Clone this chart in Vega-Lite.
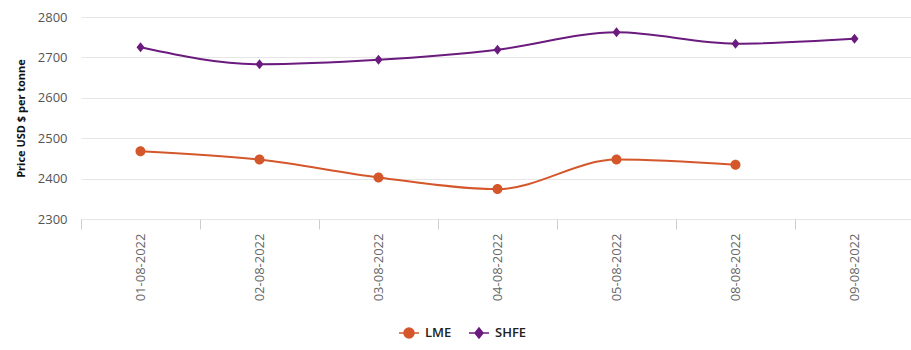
{
  "$schema": "https://vega.github.io/schema/vega-lite/v6.json",
  "width": 822,
  "height": 202,
  "autosize": "none",
  "padding": {"left": 81, "top": 17, "right": 8, "bottom": 131},
  "background": "white",
  "config": {"view": {"stroke": null}, "font": "Open Sans"},
  "data": {
    "values": [
      {"date": "01-08-2022", "series": "LME", "price": 2468},
      {"date": "02-08-2022", "series": "LME", "price": 2447},
      {"date": "03-08-2022", "series": "LME", "price": 2403},
      {"date": "04-08-2022", "series": "LME", "price": 2374},
      {"date": "05-08-2022", "series": "LME", "price": 2447},
      {"date": "08-08-2022", "series": "LME", "price": 2434},
      {"date": "01-08-2022", "series": "SHFE", "price": 2725},
      {"date": "02-08-2022", "series": "SHFE", "price": 2683},
      {"date": "03-08-2022", "series": "SHFE", "price": 2694},
      {"date": "04-08-2022", "series": "SHFE", "price": 2719},
      {"date": "05-08-2022", "series": "SHFE", "price": 2762},
      {"date": "08-08-2022", "series": "SHFE", "price": 2734},
      {"date": "09-08-2022", "series": "SHFE", "price": 2746}
    ]
  },
  "encoding": {
    "x": {
      "field": "date",
      "type": "ordinal",
      "sort": null,
      "scale": {"type": "band", "range": [0, 833], "paddingInner": 0, "paddingOuter": 0},
      "axis": {
        "title": null,
        "domain": false,
        "tickBand": "extent",
        "tickColor": "#cccccc",
        "tickSize": 10,
        "labelAngle": 270,
        "labelAlign": "right",
        "labelBaseline": "middle",
        "labelPadding": 4,
        "labelColor": "#666666",
        "labelFontSize": 13,
        "labelFont": "Open Sans",
        "grid": false
      }
    },
    "y": {
      "field": "price",
      "type": "quantitative",
      "scale": {"domain": [2300, 2800], "nice": false, "zero": false},
      "axis": {
        "title": "Price USD $ per tonne",
        "titleFont": "Open Sans",
        "titleFontSize": 11,
        "titleFontWeight": "bold",
        "titleColor": "#111111",
        "titleX": -60,
        "titleY": 101,
        "titleBaseline": "middle",
        "titleAngle": 270,
        "values": [2300, 2400, 2500, 2600, 2700, 2800],
        "format": "d",
        "domain": false,
        "ticks": false,
        "labelPadding": 14,
        "labelColor": "#555555",
        "labelFontSize": 13,
        "labelFont": "Open Sans",
        "gridColor": "#e6e6e6",
        "gridWidth": 1
      }
    },
    "color": {
      "field": "series",
      "type": "nominal",
      "scale": {"domain": ["LME", "SHFE"], "range": ["#d4572b", "#6b1a7e"]},
      "legend": {
        "title": null,
        "orient": "none",
        "direction": "horizontal",
        "legendX": 317,
        "legendY": 305,
        "labelFont": "Open Sans",
        "labelFontSize": 13,
        "labelFontWeight": 600,
        "labelColor": "#222222",
        "symbolSize": 400,
        "columnPadding": 14,
        "labelOffset": 5
      }
    }
  },
  "layer": [
    {
      "mark": {"type": "line", "interpolate": "monotone", "strokeWidth": 2}
    },
    {
      "mark": {"type": "point", "filled": true, "opacity": 1, "size": 400},
      "encoding": {
        "shape": {
          "field": "series",
          "type": "nominal",
          "scale": {
            "domain": ["LME", "SHFE"],
            "range": [
              "M-1,0H1M-0.5,0A0.5,0.5 0 1,0 0.5,0A0.5,0.5 0 1,0 -0.5,0Z",
              "M-1,0H1M0,-0.5L0.4,0L0,0.5L-0.4,0Z"
            ]
          }
        }
      }
    }
  ]
}
